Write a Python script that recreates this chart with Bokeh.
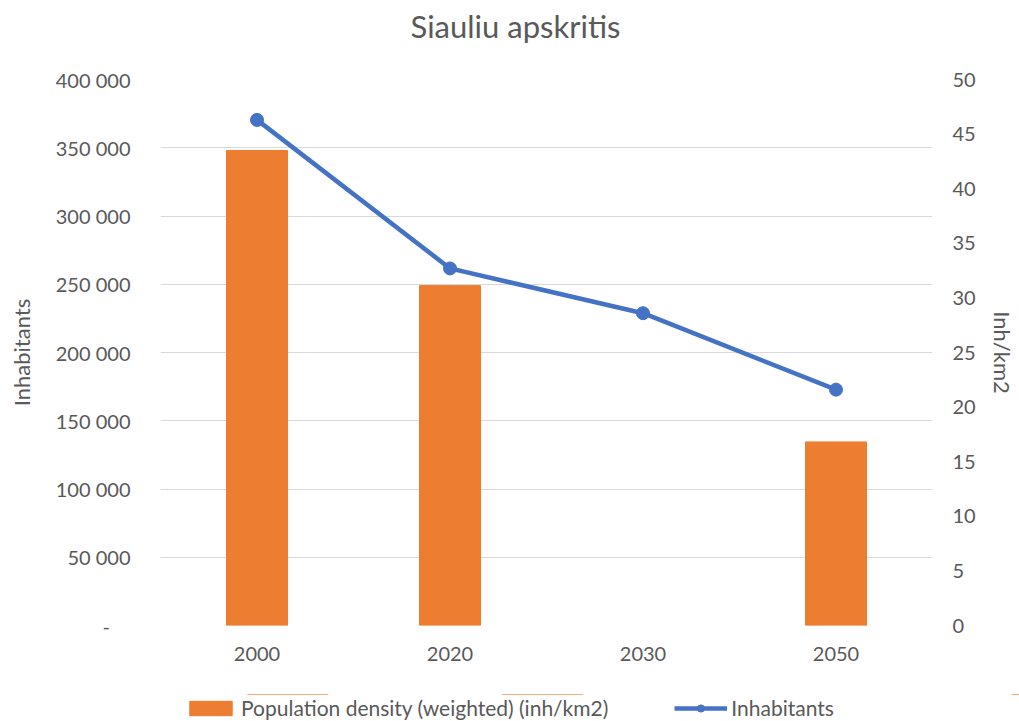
from bokeh.plotting import figure
from bokeh.layouts import column
from bokeh.models import (ColumnDataSource, Range1d, LinearAxis, FactorRange, Title,
                          CustomJSTickFormatter, FixedTicker, Legend, LegendItem)
from bokeh.embed import file_html
from bokeh.resources import INLINE

# ---- data ----
years = ["2000", "2020", "2030", "2050"]
density_bar = [348000, 249000, None, 134500]          # left axis (bars)
inhabitants_line = [46.3, 32.7, 28.6, 21.6]           # right axis (line)
left_ticks = [0, 50000, 100000, 150000, 200000, 250000, 300000, 350000, 400000]
right_ticks = [0, 5, 10, 15, 20, 25, 30, 35, 40, 45, 50]

title_text = "Siauliu apskritis"
bar_label = "Population density (weighted) (inh/km2)"
line_label = "Inhabitants"

FONT = "Lato"
TXT = "#595959"
ORANGE = "#ED7D31"
BLUE = "#4472C4"

bar_years = [y for y, v in zip(years, density_bar) if v is not None]
bar_vals = [v for v in density_bar if v is not None]
bar_src = ColumnDataSource(dict(x=bar_years, top=bar_vals))
line_src = ColumnDataSource(dict(x=years, y=inhabitants_line))

p = figure(frame_width=772, frame_height=546, output_backend="svg", toolbar_location=None,
           x_range=FactorRange(*years, range_padding=0), y_range=Range1d(0, left_ticks[-1]),
           min_border_left=160, min_border_right=87, min_border_top=79, min_border_bottom=69)
p.extra_y_ranges = {"right": Range1d(0, right_ticks[-1])}

p.outline_line_color = None
p.background_fill_color = "white"
p.border_fill_color = "white"

# real title, with a spacer title placed between it and the frame
p.title.text = title_text
p.title.align = "left"
p.title.offset = 250
p.title.text_font = FONT
p.title.text_font_size = "31px"
p.title.text_font_style = "normal"
p.title.text_color = TXT
p.title.standoff = 0
p.add_layout(Title(text=" ", text_font_size="1px", standoff=32), "above")

p.vbar(x="x", top="top", width=0.316, source=bar_src, color=ORANGE)
p.line(x="x", y="y", source=line_src, y_range_name="right", color=BLUE, line_width=4.5)
p.scatter(x="x", y="y", source=line_src, y_range_name="right", color=BLUE, size=13)

# left axis
la = p.yaxis[0]
la.ticker = FixedTicker(ticks=left_ticks)
la.formatter = CustomJSTickFormatter(code="""
if (tick == 0) { return '-    '; }
return tick.toString().replace(/\\B(?=(\\d{3})+(?!\\d))/g, ' ');
""")
la.axis_label = "Inhabitants"

# right axis
ra = LinearAxis(y_range_name="right", ticker=FixedTicker(ticks=right_ticks), axis_label="Inh/km2")
p.add_layout(ra, "right")

for ax in [la, ra, p.xaxis[0]]:
    ax.axis_line_color = None
    ax.major_tick_line_color = None
    ax.minor_tick_line_color = None
    ax.major_tick_out = 0
    ax.major_tick_in = 0
    ax.minor_tick_out = 0
    ax.minor_tick_in = 0
    ax.major_label_text_font = FONT
    ax.major_label_text_font_size = "20px"
    ax.major_label_text_color = TXT
    ax.axis_label_text_font = FONT
    ax.axis_label_text_font_size = "22px"
    ax.axis_label_text_font_style = "normal"
    ax.axis_label_text_color = TXT

la.major_label_standoff = 30
la.axis_label_standoff = 18
ra.major_label_standoff = 20
ra.axis_label_standoff = 10
p.xaxis[0].major_label_standoff = 21

p.xgrid.grid_line_color = None
p.ygrid.grid_line_color = "#D9D9D9"
p.ygrid.grid_line_width = 1
p.ygrid.ticker = FixedTicker(ticks=left_ticks)

# ---- legend strip below the chart (its own figure; series glyphs lie outside its range) ----
lp = figure(frame_width=1019, frame_height=27, output_backend="svg", toolbar_location=None,
            x_range=FactorRange(*years), y_range=Range1d(-2, -1),
            x_axis_location=None, y_axis_location=None, min_border=0)
lp.outline_line_color = None
lp.xgrid.grid_line_color = None
lp.ygrid.grid_line_color = None
lb = lp.vbar(x="x", top="top", width=0.316, source=bar_src, color=ORANGE)
ll = lp.line(x="x", y="y", source=line_src, color=BLUE, line_width=4.5)
ls = lp.scatter(x="x", y="y", source=line_src, color=BLUE, size=13)

legend = Legend(items=[LegendItem(label=bar_label, renderers=[lb]),
                       LegendItem(label=line_label, renderers=[ll, ls])],
                orientation="horizontal", location=(184, 1),
                border_line_color=None, background_fill_alpha=0,
                glyph_width=53, glyph_height=18, label_standoff=4, spacing=66,
                label_text_font=FONT, label_text_font_size="21px", label_text_color=TXT,
                margin=0, padding=0)
lp.add_layout(legend)

page = column(p, lp)
open("out.html", "w").write(file_html(page, INLINE))
